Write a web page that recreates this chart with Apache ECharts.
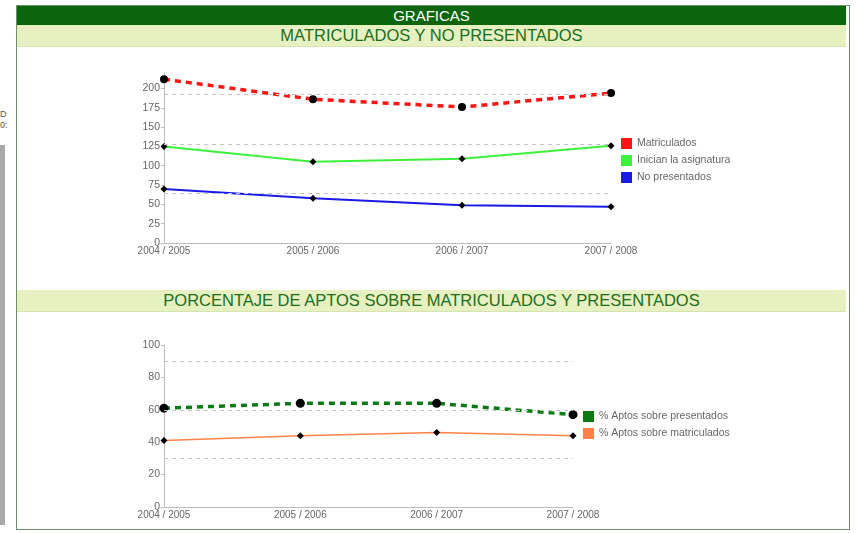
<!DOCTYPE html>
<html lang="es">
<head>
<meta charset="UTF-8">
<title>Graficas</title>
<script src="https://cdn.jsdelivr.net/npm/echarts@6/dist/echarts.min.js"></script>
<style>
    body { margin: 0; background: #fff; font-family: "Liberation Sans", Arial, sans-serif; }
    #page { position: relative; width: 856px; height: 533px; overflow: hidden; }
    .frame { position: absolute; left: 16px; top: 5px; width: 832px; height: 523px; border: 1px solid #6e8f6e; }
    .head { position: absolute; left: 17px; width: 829px; text-align: center; }
    .dark { top: 6px; height: 19px; line-height: 19px; background: #0b660b; color: #fff; font-size: 15px; }
    .band { height: 21px; line-height: 21px; background: #e6f0c0; color: #1d6d1d; font-size: 16.5px; border-bottom: 1px solid #d8e4b0; }
    .side { position: absolute; left: 0; top: 145px; width: 5px; height: 380px; background: #a9a9a9; }
    .clip { position: absolute; left: 0; font-size: 9px; color: #555; }
    #main { position: absolute; left: 0; top: 0; width: 856px; height: 533px; }
</style>
</head>
<body>
<div id="page">
    <div class="side"></div>
    <div class="clip" style="top:109px">D</div>
    <div class="clip" style="top:120px">0:</div>
    <div class="frame"></div>
    <div class="head dark">GRAFICAS</div>
    <div class="head band" style="top:25px">MATRICULADOS Y NO PRESENTADOS</div>
    <div class="head band" style="top:290px">PORCENTAJE DE APTOS SOBRE MATRICULADOS Y PRESENTADOS</div>
    <div id="main"></div>
</div>

<script type="text/javascript">
    // datos
    var cursos = ['2004 / 2005', '2005 / 2006', '2006 / 2007', '2007 / 2008'];

    var matriculados = [212, 186, 176, 194];
    var inician = [125, 105, 109, 126];
    var noPresentados = [70, 58, 49, 47];
    var guias1 = [64, 128, 192];

    var aptosPresentados = [61, 64, 64, 57];
    var aptosMatriculados = [41, 44, 46, 44];
    var guias2 = [30, 60, 90];

    var gris = '#666';
    var ejeColor = '#bdbdbd';

    var myChart = echarts.init(document.getElementById('main'));

    function guias(vals) {
        return {
            silent: true,
            symbol: ['none', 'none'],
            label: { show: false },
            lineStyle: { color: '#c4c4c4', type: [4, 4], width: 1 },
            data: vals.map(function (v) { return { yAxis: v }; })
        };
    }

    function ejeX(idx) {
        return {
            type: 'category', gridIndex: idx, boundaryGap: false, data: cursos,
            axisLine: { lineStyle: { color: ejeColor } },
            axisTick: { show: false },
            axisLabel: { color: gris, fontSize: 10, margin: 3, fontFamily: 'Liberation Sans' }
        };
    }

    function ejeY(idx, max, step) {
        return {
            type: 'value', gridIndex: idx, min: 0, max: max, interval: step,
            axisLine: { show: true, lineStyle: { color: ejeColor } },
            axisTick: { show: true, length: 3, lineStyle: { color: ejeColor } },
            axisLabel: { color: gris, fontSize: 10.5, margin: 4, showMaxLabel: max % step === 0, fontFamily: 'Liberation Sans' },
            splitLine: { show: false }
        };
    }

    var option = {
        animation: false,
        grid: [
            { left: 164, top: 73, width: 447, height: 170 },
            { left: 164, top: 345, width: 409, height: 162 }
        ],
        xAxis: [ejeX(0), ejeX(1)],
        yAxis: [ejeY(0, 220, 25), ejeY(1, 100, 20)],
        legend: [
            {
                orient: 'vertical', left: 616, top: 133, itemWidth: 11, itemHeight: 11, itemGap: 6,
                icon: 'rect',
                textStyle: { color: gris, fontSize: 10.5, fontFamily: 'Liberation Sans' },
                data: [
                    { name: 'Matriculados', itemStyle: { color: '#ff1414' } },
                    { name: 'Inician la asignatura', itemStyle: { color: '#3cf03c' } },
                    { name: 'No presentados', itemStyle: { color: '#1a1ae6' } }
                ]
            },
            {
                orient: 'vertical', left: 578, top: 406, itemWidth: 11, itemHeight: 11, itemGap: 6,
                icon: 'rect',
                textStyle: { color: gris, fontSize: 10.5, fontFamily: 'Liberation Sans' },
                data: [
                    { name: '% Aptos sobre presentados', itemStyle: { color: '#0b7a14' } },
                    { name: '% Aptos sobre matriculados', itemStyle: { color: '#ff8048' } }
                ]
            }
        ],
        series: [
            {
                name: 'Matriculados', type: 'line', xAxisIndex: 0, yAxisIndex: 0,
                data: matriculados,
                symbol: 'circle', symbolSize: 8,
                itemStyle: { color: '#000' },
                lineStyle: { color: '#ff1414', width: 3.5, type: [6, 5], cap: 'butt' },
                markLine: guias(guias1)
            },
            {
                name: 'Inician la asignatura', type: 'line', xAxisIndex: 0, yAxisIndex: 0,
                data: inician,
                symbol: 'diamond', symbolSize: 7,
                itemStyle: { color: '#000' },
                lineStyle: { color: '#3cf03c', width: 2 }
            },
            {
                name: 'No presentados', type: 'line', xAxisIndex: 0, yAxisIndex: 0,
                data: noPresentados,
                symbol: 'diamond', symbolSize: 7,
                itemStyle: { color: '#000' },
                lineStyle: { color: '#1a1ae6', width: 2 }
            },
            {
                name: '% Aptos sobre presentados', type: 'line', xAxisIndex: 1, yAxisIndex: 1,
                data: aptosPresentados,
                symbol: 'circle', symbolSize: 9,
                itemStyle: { color: '#000' },
                lineStyle: { color: '#0b7a14', width: 3.5, type: [6, 5], cap: 'butt' },
                markLine: guias(guias2)
            },
            {
                name: '% Aptos sobre matriculados', type: 'line', xAxisIndex: 1, yAxisIndex: 1,
                data: aptosMatriculados,
                symbol: 'diamond', symbolSize: 7,
                itemStyle: { color: '#000' },
                lineStyle: { color: '#ff8048', width: 1.5 }
            }
        ]
    };

    myChart.setOption(option);
</script>
</body>
</html>
